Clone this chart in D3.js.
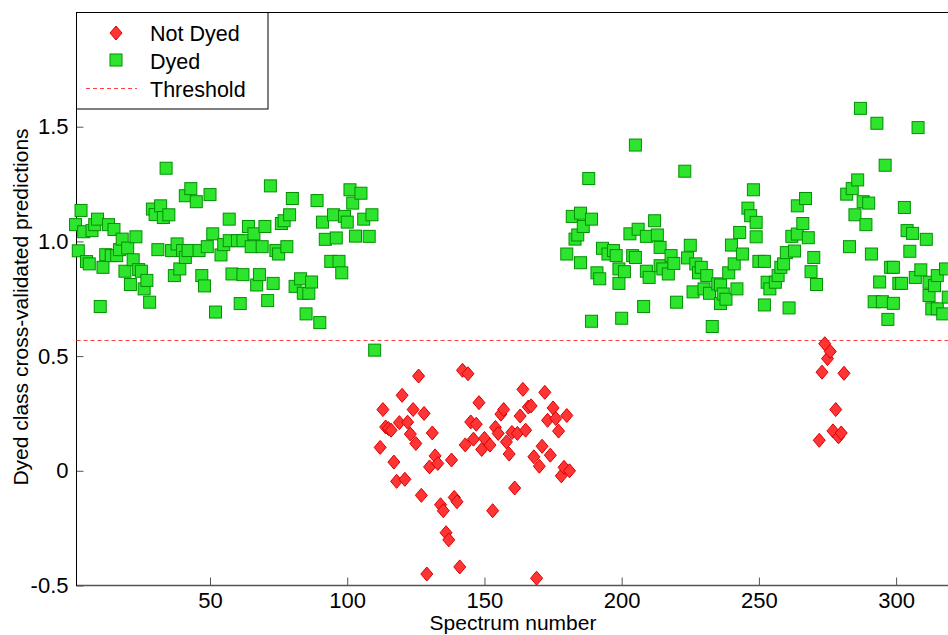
<!DOCTYPE html>
<html>
<head>
<meta charset="utf-8">
<script src="https://cdn.jsdelivr.net/npm/d3@7"></script>
<style>
  body { margin: 0; background: #fff; }
  svg { display: block; font-family: "Liberation Sans", Arial, sans-serif; }
</style>
</head>
<body>
<svg id="graph" width="948" height="635"></svg>
<script>
// [spectrum number, predicted value]
const dyed = [
  [1,1.073],[2,0.959],[3,1.135],[4,1.042],[5,0.912],[6,0.902],[7,1.047],[8,1.073],[9,1.097],[10,0.716],
  [11,0.887],[12,0.942],[13,1.073],[14,0.938],[15,1.052],[16,0.938],[17,0.964],[18,1.010],[19,0.870],[20,0.971],
  [21,0.812],[22,0.920],[23,1.020],[24,0.877],[25,0.870],[26,0.793],[27,0.830],[28,0.735],[29,1.141],[30,1.117],
  [31,0.964],[32,1.155],[33,1.104],[34,1.319],[35,1.116],[36,0.960],[37,0.851],[38,0.989],[39,0.880],[40,0.960],
  [41,1.199],[41,0.930],[42,0.960],[43,1.230],[45,1.173],[46,0.960],[47,0.851],[48,0.806],[49,0.977],[50,1.204],
  [51,1.033],[52,0.692],[54,0.941],[55,0.986],[57,1.097],[57,1.003],[58,0.858],[60,1.003],[61,0.729],[62,1.003],
  [62,0.855],[64,1.065],[65,0.977],[66,1.033],[67,0.810],[68,0.855],[69,0.977],[70,1.065],[71,0.742],[72,1.242],
  [73,0.817],[74,0.960],[75,0.945],[76,1.078],[77,1.090],[78,0.977],[79,1.116],[80,1.187],[81,0.804],[83,0.837],
  [84,0.774],[85,0.684],[86,0.774],[87,0.823],[89,1.178],[90,0.646],[91,1.084],[92,1.009],[94,0.913],[95,1.116],
  [96,1.015],[97,0.913],[98,0.863],[99,1.109],[100,1.084],[101,1.225],[102,1.167],[103,1.023],[105,1.210],[106,1.097],
  [108,1.022],[109,1.116],[110,0.526],
  [180,0.945],[182,1.109],[183,1.010],[184,1.028],[185,1.123],[185,0.907],[186,1.065],[188,1.274],[189,1.097],[189,0.652],
  [191,0.863],[192,0.837],[193,0.970],[195,0.945],[197,0.960],[198,0.938],[199,0.880],[199,0.817],[200,0.665],[201,0.868],
  [203,1.033],[204,0.938],[205,1.420],[205,0.930],[206,1.053],[208,0.716],[209,1.022],[209,0.870],[210,0.843],[212,1.090],
  [213,1.028],[214,0.974],[214,0.894],[215,0.880],[217,0.858],[218,0.938],[219,0.904],[220,0.735],[223,1.306],[224,0.928],
  [225,0.983],[226,0.780],[227,0.902],[228,0.863],[229,0.887],[230,0.793],[231,0.851],[232,0.774],[233,0.629],[235,0.815],
  [236,0.810],[236,0.729],[237,0.771],[238,0.748],[239,0.863],[240,0.984],[241,0.902],[242,0.793],[243,1.039],[244,0.945],
  [246,1.145],[247,1.112],[248,1.225],[249,1.083],[249,1.020],[250,0.913],[252,0.913],[252,0.723],[253,0.822],[254,0.793],
  [256,0.822],[257,0.851],[258,0.887],[259,0.902],[260,0.951],[261,0.710],[262,1.022],[263,0.958],[264,1.155],[264,1.032],
  [266,1.078],[267,1.187],[268,1.016],[269,0.868],[270,0.930],[271,0.812],
  [282,1.206],[283,0.977],[284,1.230],[285,1.116],[286,1.268],[287,1.580],[288,1.173],[289,1.073],[290,1.167],[291,0.945],
  [292,0.737],[293,1.515],[294,0.823],[295,0.737],[296,1.332],[297,0.660],[298,0.887],[299,0.887],[299,0.730],[301,0.817],
  [302,0.817],[303,1.148],[304,1.047],[305,0.957],[306,1.035],[307,0.843],[308,1.496],[309,0.876],[311,1.009],[312,0.822],
  [312,0.764],[313,0.706],[314,0.807],[315,0.851],[315,0.706],[317,0.684],[318,0.880],[319,0.757]
];

const notDyed = [
  [112,0.102],[113,0.267],[114,0.191],[115,0.184],[116,0.177],[117,0.038],[118,-0.046],[119,0.210],[120,0.329],[121,-0.037],
  [122,0.212],[123,0.160],[124,0.267],[125,0.119],[126,0.413],[127,-0.107],[128,0.250],[129,-0.450],[130,0.017],[131,0.165],
  [132,0.065],[133,0.032],[134,-0.148],[135,-0.174],[136,-0.270],[137,-0.301],[138,0.047],[139,-0.116],[140,-0.135],[141,-0.419],
  [142,0.438],[143,0.113],[144,0.423],[145,0.213],[146,0.138],[147,0.203],[148,0.297],[149,0.093],[150,0.141],[152,0.112],
  [153,-0.174],[154,0.189],[155,0.163],[156,0.247],[157,0.267],[158,0.126],[159,0.073],[160,0.167],[161,-0.075],[162,0.163],
  [163,0.239],[164,0.355],[165,0.177],[166,0.278],[167,0.283],[168,0.061],[169,-0.468],[170,0.020],[171,0.107],[172,0.342],
  [173,0.220],[174,0.068],[175,0.274],[176,0.228],[177,0.173],[178,-0.022],[179,0.015],[180,0.241],[181,0.000],
  [272,0.133],[273,0.430],[274,0.554],[275,0.489],[276,0.520],[277,0.174],[278,0.267],[279,0.148],[280,0.165],[281,0.425]
];

const threshold = 0.568;
const xTicks = [50, 100, 150, 200, 250, 300];
const yTicks = [-0.5, 0, 0.5, 1, 1.5];
const legendLabels = ["Not Dyed", "Dyed", "Threshold"];

const svg = d3.select("#graph");

const plotLeft = 76.5, plotTop = 12.5, plotBottom = 585.5, plotRight = 951;

const x = d3.scaleLinear().domain([1.35, 320]).range([plotLeft, plotRight]);
const y = d3.scaleLinear().domain([-0.5, 2.0]).range([plotBottom, plotTop - 0.5]);

const red = "#ff3535", redStroke = "#d80000";
const green = "#2ee52e", greenStroke = "#009000";

// frame
svg.append("line")
    .attr("x1", plotLeft).attr("x2", 948).attr("y1", plotTop).attr("y2", plotTop)
    .style("stroke", "#000");

// axes
const xAxis = svg.append("g")
    .attr("transform", "translate(0," + plotBottom + ")")
    .call(d3.axisBottom(x).tickValues(xTicks).tickSize(-8).tickPadding(7).tickFormat(d3.format("d")));
xAxis.select(".domain").remove();
xAxis.selectAll("line").style("stroke", "#555");
xAxis.selectAll("text").style("font-size", "22px").style("fill", "#000")
    .style("font-family", "'Liberation Sans', Arial, sans-serif");

const yAxis = svg.append("g")
    .attr("transform", "translate(" + plotLeft + ",0)")
    .call(d3.axisLeft(y).tickValues(yTicks).tickSize(-7).tickPadding(8)
        .tickFormat(function(d) { return d === 0 ? "0" : d.toFixed(1); }));
yAxis.select(".domain").remove();
yAxis.selectAll("line").style("stroke", "#555");
yAxis.selectAll("text").style("font-size", "22px").style("fill", "#000")
    .style("font-family", "'Liberation Sans', Arial, sans-serif");

svg.append("line")
    .attr("x1", plotLeft).attr("x2", 948).attr("y1", plotBottom).attr("y2", plotBottom)
    .style("stroke", "#555").style("stroke-width", 1.5);
svg.append("line")
    .attr("x1", plotLeft).attr("x2", plotLeft).attr("y1", plotTop).attr("y2", plotBottom + 0.5)
    .style("stroke", "#000");

// threshold
svg.append("line")
    .attr("x1", plotLeft).attr("x2", 948)
    .attr("y1", y(threshold)).attr("y2", y(threshold))
    .style("stroke", "#ff4040").style("stroke-dasharray", "4,3");

const diamond = "M0,-7L6,0L0,7L-6,0Z";

svg.append("g").selectAll("path")
    .data(notDyed)
    .join("path")
    .attr("d", diamond)
    .attr("transform", function(d) { return "translate(" + x(d[0]) + "," + y(d[1]) + ")"; })
    .style("fill", red).style("stroke", redStroke).style("stroke-width", 1);

svg.append("g").selectAll("rect")
    .data(dyed)
    .join("rect")
    .attr("x", function(d) { return x(d[0]) - 6; })
    .attr("y", function(d) { return y(d[1]) - 6; })
    .attr("width", 12).attr("height", 12)
    .style("fill", green).style("stroke", greenStroke).style("stroke-width", 1);

// legend
const legend = svg.append("g");
legend.append("rect")
    .attr("x", plotLeft).attr("y", plotTop).attr("width", 191.5).attr("height", 96.5)
    .style("fill", "#fff").style("stroke", "#000");
legend.append("path")
    .attr("d", diamond)
    .attr("transform", "translate(116,33)")
    .style("fill", red).style("stroke", redStroke);
legend.append("rect")
    .attr("x", 110).attr("y", 54).attr("width", 12).attr("height", 12)
    .style("fill", green).style("stroke", greenStroke);
legend.append("line")
    .attr("x1", 86).attr("x2", 137).attr("y1", 88.5).attr("y2", 88.5)
    .style("stroke", "#ff4040").style("stroke-dasharray", "4,3");
legend.selectAll("text")
    .data(legendLabels)
    .join("text")
    .attr("x", 150)
    .attr("y", function(d, i) { return 41 + i * 28; })
    .text(function(d) { return d; })
    .style("font-size", "21.5px").style("fill", "#000");

// axis titles
svg.append("text")
    .attr("x", 513).attr("y", 630)
    .attr("text-anchor", "middle")
    .style("font-size", "21px")
    .text("Spectrum number");
svg.append("text")
    .attr("transform", "translate(28,307) rotate(-90)")
    .attr("text-anchor", "middle")
    .style("font-size", "21px")
    .text("Dyed class cross-validated predictions");
</script>
</body>
</html>
